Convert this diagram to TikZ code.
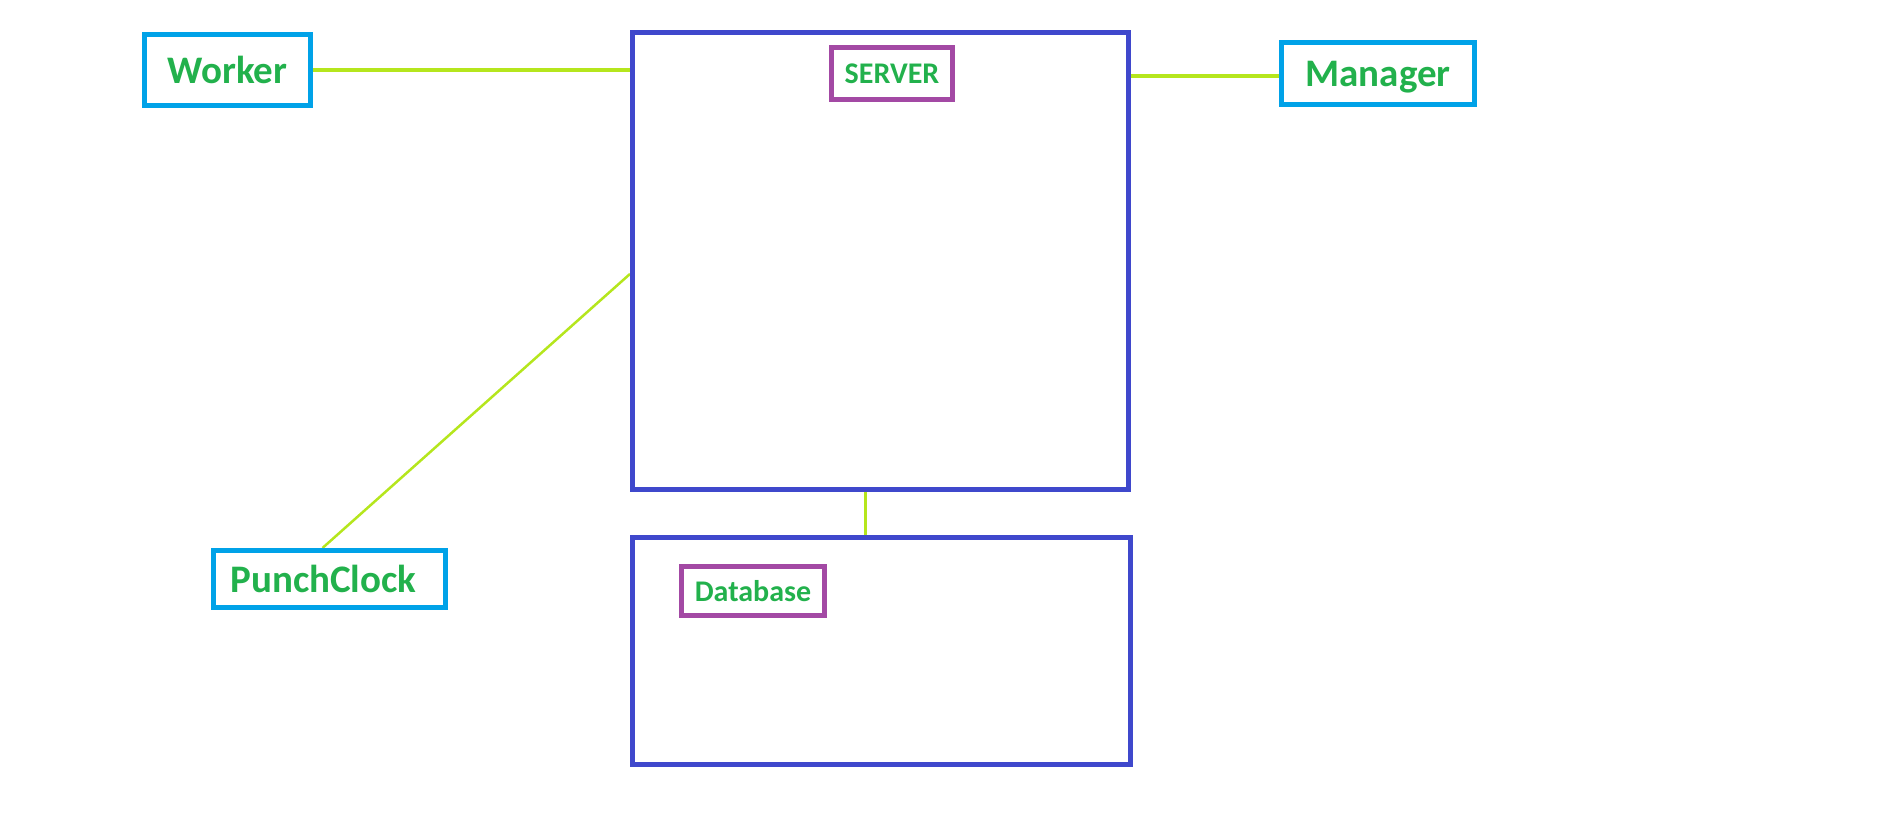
\documentclass[tikz,border=0pt]{standalone}
\usepackage{fontspec}
\setmainfont{Carlito}
\usepackage{tikz}
\usetikzlibrary{calc,positioning,backgrounds}
\usepackage{xcolor}

\definecolor{paintcyan}{RGB}{0,162,232}
\definecolor{paintgreen}{RGB}{34,177,76}
\definecolor{paintblue}{RGB}{63,72,204}
\definecolor{paintpurple}{RGB}{163,73,164}
\definecolor{paintlime}{RGB}{181,230,29}

\tikzset{
    actor/.style={draw=paintcyan, line width=5pt, text=paintgreen, inner sep=0pt, text depth=0pt,
        font=\bfseries\fontsize{39}{47}\selectfont},
    unit/.style={draw=paintblue, line width=5pt, inner sep=0pt},
    tag/.style={draw=paintpurple, line width=5pt, text=paintgreen, inner sep=0pt, text depth=0pt,
        font=\bfseries\fontsize{30}{36}\selectfont},
    link/.style={draw=paintlime, line width=3.3pt}
}

\begin{document}
\begin{tikzpicture}[x=1pt,y=-1pt]
        \useasboundingbox (0,0) rectangle (1883,818);
        % the two big blocks
        \node[unit, minimum width=496pt, minimum height=457pt] (server) at (880.5,261) {};
        \node[unit, minimum width=498pt, minimum height=227pt] (db) at (881.5,651) {};
        % labels inside the blocks
        \node[tag, minimum width=121pt, minimum height=52pt] (serverlabel) at (892,73.5) {SERVER};
        \node[tag, minimum width=143pt, minimum height=49pt] (dblabel) at (753,591) {Database};
        % clients round the server
        \node[actor, minimum width=166pt, minimum height=71pt] (worker) at (227.5,70) {Worker};
        \node[actor, minimum width=193pt, minimum height=62pt] (manager) at (1378,73.5) {Manager};
        \node[actor, minimum width=232pt, minimum height=57pt] (punch) at (329.5,579) {\hspace*{-12pt}PunchClock};
        % connections, kept below the borders
        \begin{scope}[on background layer]
            \coordinate (punchport) at ($(server.north west)!0.528!(server.south west)$);
            \coordinate (dbport) at ([xshift=-15pt]server.south);
            \draw[link] (worker.east) -- (worker.east -| server.west);
            \draw[link] ([yshift=-2.5pt]manager.west) -- ([yshift=-2.5pt]manager.west -| server.east);
            \draw[link, line width=2.5pt] ([xshift=-7pt]punch.north) -- (punchport);
            \draw[link, line width=3pt] (dbport) -- (dbport |- db.north);
        \end{scope}
\end{tikzpicture}
\end{document}
